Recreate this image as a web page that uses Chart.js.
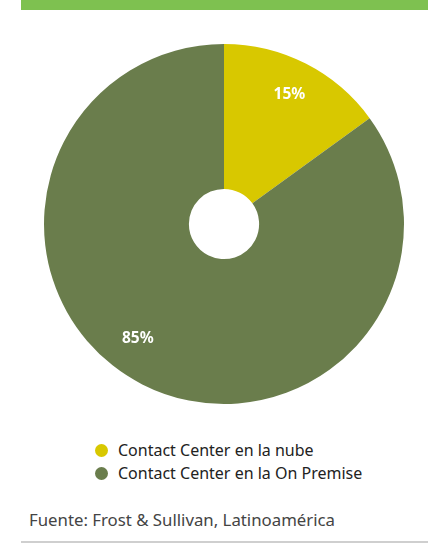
<!DOCTYPE html>
<html><head><meta charset="utf-8">
<script src="https://cdn.jsdelivr.net/npm/chart.js@4"></script>
<style>
html,body{margin:0;padding:0;background:#fff;width:432px;height:545px;overflow:hidden;font-family:"Noto Sans","Open Sans",sans-serif;}
#bar{position:absolute;left:21px;top:0;width:407px;height:10px;background:#7ec150;}
#wrap{position:absolute;left:0;top:0;width:432px;height:430px;}
#legend{position:absolute;left:95px;top:439px;font-size:16px;color:#222;}
.li{height:23px;line-height:23px;display:flex;align-items:center;}
.dot{width:13px;height:13px;border-radius:50%;margin-right:10px;}
#src{position:absolute;left:29px;top:508px;font-size:16.8px;color:#444;}
#line{position:absolute;left:21px;top:541px;width:407px;height:2px;background:#cfcfcf;}
</style></head><body>
<div id="bar"></div>
<div id="wrap"><canvas id="c"></canvas></div>
<div id="legend"></div>
<div id="src">Fuente: Frost &amp; Sullivan, Latinoamérica</div>
<div id="line"></div>
<script>
const categories = ["Contact Center en la nube", "Contact Center en la On Premise"];
const values = [15, 85];
const valueLabels = ["15%", "85%"];
const colors = ["#d8c800", "#6a7d4c"];

const labelPlugin = {
  id: 'sliceLabels',
  afterDatasetsDraw(chart) {
    const ctx = chart.ctx;
    const meta = chart.getDatasetMeta(0);
    ctx.save();
    ctx.fillStyle = '#ffffff';
    ctx.font = 'bold 15.5px "Noto Sans","Open Sans",sans-serif';
    ctx.textAlign = 'center';
    ctx.textBaseline = 'middle';
    meta.data.forEach((arc, i) => {
      const p = arc.getProps(['x','y','startAngle','endAngle','outerRadius'], true);
      let mid = (p.startAngle + p.endAngle) / 2;
      if (i === 1) mid += 0.17;
      const r = p.outerRadius * 0.8;
      ctx.fillText(valueLabels[i], p.x + Math.cos(mid) * r, p.y + Math.sin(mid) * r - 1);
    });
    ctx.restore();
  }
};

new Chart(document.getElementById('c'), {
  type: 'doughnut',
  data: { labels: categories, datasets: [{ data: values, backgroundColor: colors, borderWidth: 0 }] },
  options: {
    responsive: true, maintainAspectRatio: false, animation: false,
    cutout: '19.5%',
    layout: { padding: { top: 44, bottom: 26, left: 16, right: 0 } },
    plugins: { legend: { display: false }, tooltip: { enabled: false } }
  },
  plugins: [labelPlugin]
});

const lg = document.getElementById('legend');
categories.forEach((c, i) => {
  const d = document.createElement('div'); d.className = 'li';
  const s = document.createElement('span'); s.className = 'dot'; s.style.background = colors[i];
  const t = document.createElement('span'); t.textContent = c;
  d.appendChild(s); d.appendChild(t); lg.appendChild(d);
});
</script>
</body></html>
